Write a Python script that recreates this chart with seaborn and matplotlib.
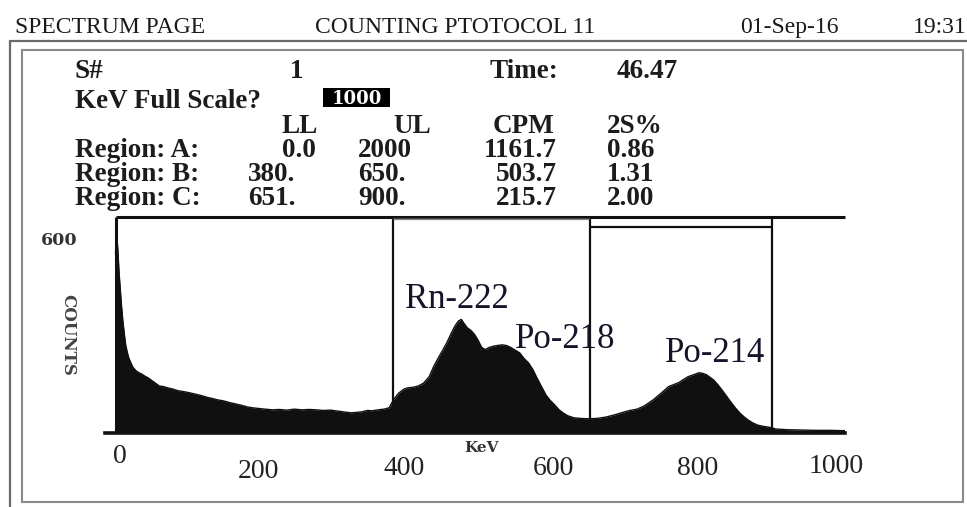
import matplotlib
matplotlib.use("Agg")
import matplotlib.pyplot as plt
import numpy as np
import pandas as pd
import seaborn as sns
from matplotlib.patches import Rectangle
from matplotlib.lines import Line2D
from matplotlib.transforms import blended_transform_factory, ScaledTranslation

# ---------------- data ----------------
kev = [
    0, 1, 2, 3, 4, 5, 6, 8, 10, 12,
    14, 16, 18, 21, 24, 28, 32, 36, 40, 45,
    50, 55, 60, 66, 72, 78, 85, 93, 100, 108,
    116, 125, 133, 140, 148, 156, 164, 172, 180, 188,
    196, 205, 215, 225, 235, 245, 255, 265, 275, 285,
    295, 305, 315, 322, 330, 338, 345, 352, 360, 368,
    375, 381, 388, 395, 400, 408, 415, 422, 430, 436,
    442, 448, 454, 460, 465, 470, 474, 478, 482, 487,
    492, 497, 502, 507, 512, 518, 523, 530, 536, 542,
    548, 554, 560, 566, 572, 578, 584, 590, 596, 602,
    608, 614, 620, 628, 637, 648, 660, 672, 683, 695,
    705, 715, 725, 737, 745, 752, 758, 765, 772, 779,
    785, 790, 795, 800, 805, 810, 815, 820, 826, 832,
    838, 844, 850, 856, 862, 868, 874, 880, 888, 897,
    905, 920, 940, 960, 980, 1000]
counts = [
    540, 600, 585, 560, 520, 480, 450, 390, 340, 300,
    265, 245, 228, 212, 198, 188, 182, 178, 172, 166,
    158, 150, 142, 140, 136, 133, 128, 125, 122, 118,
    114, 108, 104, 100, 97, 92, 88, 84, 79, 76,
    74, 72, 70, 71, 69, 72, 70, 71, 70, 68,
    69, 66, 63, 61, 62, 64, 68, 67, 70, 72,
    76, 100, 120, 132, 136, 138, 142, 150, 170, 200,
    225, 248, 272, 300, 322, 338, 343, 330, 318, 310,
    298, 280, 258, 252, 258, 262, 264, 266, 264, 258,
    250, 242, 225, 212, 192, 165, 140, 115, 98, 85,
    70, 60, 52, 46, 44, 43, 44, 48, 54, 62,
    68, 72, 82, 100, 115, 128, 140, 146, 152, 162,
    170, 174, 178, 182, 180, 176, 168, 160, 145, 128,
    110, 92, 75, 60, 48, 38, 30, 24, 20, 17,
    12, 10, 9, 8, 8, 7]

x_tick_values = [200, 400, 600, 800]
x_label_values = [0, 200, 400, 600, 800, 1000]
x_label_texts = ["0", "200", "400", "600", "800", "1000"]
y_tick_values = [0, 120, 240, 360, 480, 600]
y_label_text = "600"

region_names = ["Region: A:", "Region: B:", "Region: C:"]
region_ll = ["0.0", "380.", "651."]
region_ul = ["2000", "650.", "900."]
region_cpm = ["1161.7", "503.7", "215.7"]
region_2s = ["0.86", "1.31", "2.00"]
column_headers = ["LL", "UL", "CPM", "2S%"]
region_bounds = [380, 650, 900]          # KeV
region_c = (650, 900)
region_b = (380, 650)

peak_names = ["Rn-222", "Po-218", "Po-214"]
peak_kev = [397, 548, 753]
peak_counts = [376, 258, 215]

header_texts = ["SPECTRUM PAGE", "COUNTING PTOTOCOL 11", "01-Sep-16", "19:31"]
sample_no = "1"
time_value = "46.47"
full_scale = "1000"

df = pd.DataFrame({"KeV": kev, "Counts": counts})

# ---------------- figure ----------------
W, H = 967, 507
sns.set_style("white")
plt.rcParams["font.family"] = ["Liberation Serif", "DejaVu Serif"]
fig = plt.figure(figsize=(W / 100, H / 100), dpi=100)
fig.patch.set_facecolor("white")

def fx(x):
    return x / W

def fy(y):
    return 1 - y / H

ax = fig.add_axes([fx(105.3), fy(433), (845 - 105.3) / W, (433 - 217) / H])
ax.set_facecolor("none")

# spectrum
ink = "#101010"
sns.lineplot(data=df, x="KeV", y="Counts", ax=ax, color=ink, lw=1.0)
ax.fill_between(df["KeV"], 0, df["Counts"], color=ink, lw=0)

ax.set_xlim(-14, 1000)
ax.set_ylim(0, 652)
ax.set_xlabel("")
ax.set_ylabel("")

for s in ["left", "right", "top"]:
    ax.spines[s].set_visible(False)
ax.spines["bottom"].set_linewidth(2.6)
ax.spines["bottom"].set_color(ink)

ax.set_xticks(x_tick_values)
ax.set_xticklabels([])
ax.tick_params(axis="x", direction="out", length=10, width=1.8, color="#222")
ax.set_yticks(y_tick_values)
ax.set_yticklabels([])
ax.tick_params(axis="y", direction="in", length=8.5, width=1.8, color="#222")

# frame lines of the plot
ax.vlines([0], 0, 652, color=ink, lw=2.2, clip_on=False)
ax.hlines([652], 0, 1000, color=ink, lw=2.2, clip_on=False)
ax.vlines(region_bounds, 0, 652, color=ink, lw=1.6, clip_on=False)
ax.hlines([621], region_c[0], region_c[1], color=ink, lw=1.6)
ax.hlines([645], region_b[0], region_b[1], color="#555", lw=1.6, alpha=0.7)

# peak labels
for name, xk, yc in zip(peak_names, peak_kev, peak_counts):
    ax.text(xk, yc, name, fontsize=25, color="#14142a", ha="left", va="baseline",
            family=["Liberation Serif"])

# x tick labels (staggered like the scan)
bt = blended_transform_factory(ax.transData, fig.transFigure)
label_dx = [4, -3, -3, 0, -1, -9]
label_base = [463, 478, 475, 475, 475, 473]
for v, t, dx, yb in zip(x_label_values, x_label_texts, label_dx, label_base):
    tr = bt + ScaledTranslation(dx / 100, 0, fig.dpi_scale_trans)
    ax.text(v, fy(yb), t, transform=tr, ha="center", va="baseline",
            fontsize=20, color="#222")

# y label & axis titles
fig.text(fx(77), fy(245), y_label_text, ha="right", va="baseline", fontsize=12.5,
         fontweight="bold", color="#333", family=["DejaVu Serif"])
fig.text(fx(68), fy(335), "COUNTS", rotation=-90, ha="center", va="center",
         fontsize=12, fontweight="bold", color="#444", family=["DejaVu Serif"])
fig.text(fx(482), fy(452), "KeV", ha="center", va="baseline", fontsize=11,
         fontweight="bold", color="#333", family=["DejaVu Serif"])

# ---------------- header and frame ----------------
hdr_x = [15, 315, 740, 913]
for t, x in zip(header_texts, hdr_x):
    fig.text(fx(x), fy(33), t, ha="left", va="baseline", fontsize=17, color="#1a1a1a")

fig.add_artist(Line2D([fx(10), fx(10)], [0, fy(41)], transform=fig.transFigure,
                      color="#6a6a6a", lw=1.6))
fig.add_artist(Line2D([fx(10), 1], [fy(41), fy(41)], transform=fig.transFigure,
                      color="#6a6a6a", lw=1.6))
fig.add_artist(Rectangle((fx(22), fy(502)), (963 - 22) / W, (502 - 50) / H,
                         transform=fig.transFigure, fill=False, ec="#8a8a8a", lw=1.5))

# ---------------- table ----------------
tc = "#1c1c1c"
tk = dict(ha="left", va="baseline", fontsize=19.5, fontweight="bold", color=tc)
fig.text(fx(75), fy(78), "S#", **tk)
fig.text(fx(290), fy(78), sample_no, **tk)
fig.text(fx(490), fy(78), "Time:", **tk)
fig.text(fx(617), fy(78), time_value, **tk)
fig.text(fx(75), fy(108), "KeV Full Scale?", **tk)
fig.add_artist(Rectangle((fx(323), fy(107)), 67 / W, 19 / H, transform=fig.transFigure,
                         fc="black", ec="none"))
fig.text(fx(356.5), fy(104), full_scale, ha="center", va="baseline", fontsize=13,
         fontweight="bold", color="white", family=["DejaVu Serif"])

hdr_cols = [282, 393, 493, 607]
for t, x in zip(column_headers, hdr_cols):
    fig.text(fx(x), fy(133), t, **tk)

row_base = [157, 181, 205]
ll_x = [282, 248, 248]
for i in range(3):
    yb = row_base[i]
    fig.text(fx(75), fy(yb), region_names[i], **tk)
    fig.text(fx(ll_x[i]), fy(yb), region_ll[i], **tk)
    fig.text(fx(358), fy(yb), region_ul[i], **tk)
    fig.text(fx(557), fy(yb), region_cpm[i], **{**tk, "ha": "right"})
    fig.text(fx(607), fy(yb), region_2s[i], **tk)

fig.savefig("out.png", dpi=100, facecolor="white")
